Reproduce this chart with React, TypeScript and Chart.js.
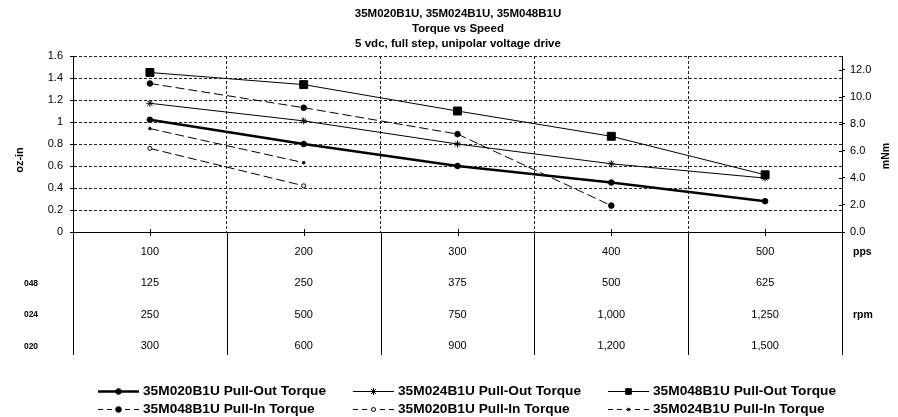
import React, { useEffect, useRef } from 'react';
import { Chart, registerables } from 'chart.js';

Chart.register(...registerables);

// ---- data ----
const ppsLabels = ['100', '200', '300', '400', '500'];
const rpm048 = ['125', '250', '375', '500', '625'];
const rpm024 = ['250', '500', '750', '1,000', '1,250'];
const rpm020 = ['300', '600', '900', '1,200', '1,500'];
const rowNames = ['048', '024', '020'];

const pullOut020 = [1.02, 0.8, 0.6, 0.45, 0.28];
const pullOut024 = [1.17, 1.01, 0.8, 0.62, 0.49];
const pullOut048 = [1.45, 1.34, 1.1, 0.87, 0.52];
const pullIn048 = [1.35, 1.13, 0.89, 0.24, null];
const pullIn020 = [0.76, 0.42, null, null, null];
const pullIn024 = [0.94, 0.63, null, null, null];

const titleLines = ['35M020B1U, 35M024B1U, 35M048B1U', 'Torque vs Speed', '5 vdc, full step, unipolar voltage drive'];
const seriesNames = [
  '35M020B1U Pull-Out Torque',
  '35M024B1U Pull-Out Torque',
  '35M048B1U Pull-Out Torque',
  '35M048B1U Pull-In Torque',
  '35M020B1U Pull-In Torque',
  '35M024B1U Pull-In Torque',
];

const FONT = "'Liberation Sans', Arial, sans-serif";
const W = 898;
const H = 417;
const ROW_H = 31.5;
const X_PAD = 4;
const TABLE_BOTTOM = 355;
const DASH = [9, 4];

function drawMarker(ctx: CanvasRenderingContext2D, style: string, x: number, y: number, r: number, fill: string) {
  ctx.save();
  ctx.strokeStyle = '#000';
  ctx.fillStyle = fill;
  ctx.lineWidth = 1;
  ctx.setLineDash([]);
  ctx.beginPath();
  if (style === 'rect') {
    const s = Math.SQRT1_2 * r;
    ctx.rect(x - s, y - s, 2 * s, 2 * s);
    ctx.fill();
    ctx.stroke();
  } else if (style === 'star') {
    const d = r * Math.SQRT1_2;
    ctx.moveTo(x - d, y - d); ctx.lineTo(x + d, y + d);
    ctx.moveTo(x - d, y + d); ctx.lineTo(x + d, y - d);
    ctx.moveTo(x, y - r); ctx.lineTo(x, y + r);
    ctx.stroke();
  } else {
    ctx.arc(x, y, r, 0, Math.PI * 2);
    ctx.fill();
    ctx.stroke();
  }
  ctx.restore();
}

const extras = {
  id: 'extras',
  afterDraw(chart: any) {
    const { ctx, chartArea: ca, scales } = chart;
    const xs = scales.x;
    const n = ppsLabels.length;
    ctx.save();
    ctx.strokeStyle = '#000';
    ctx.lineWidth = 1;
    ctx.setLineDash([]);
    // table vertical lines
    for (let i = 0; i <= n; i++) {
      const px = Math.round(xs.getPixelForValue(i - 0.5)) + 0.5;
      ctx.beginPath();
      ctx.moveTo(px, ca.bottom);
      ctx.lineTo(px, TABLE_BOTTOM);
      ctx.stroke();
    }
    // center tick marks on x axis
    for (let i = 0; i < n; i++) {
      const px = Math.round(xs.getPixelForValue(i)) + 0.5;
      ctx.beginPath();
      ctx.moveTo(px, ca.bottom - 3);
      ctx.lineTo(px, ca.bottom + 4);
      ctx.stroke();
    }
    // inner parts of y tick marks (crossing)
    const y1 = scales.y;
    y1.ticks.forEach((t: any) => {
      const py = Math.round(y1.getPixelForValue(t.value)) + 0.5;
      ctx.beginPath();
      ctx.moveTo(ca.left, py);
      ctx.lineTo(ca.left + 3, py);
      ctx.stroke();
    });
    const y2 = scales.y2;
    y2.ticks.forEach((t: any) => {
      const py = Math.round(y2.getPixelForValue(t.value)) + 0.5;
      ctx.beginPath();
      ctx.moveTo(ca.right - 3, py);
      ctx.lineTo(ca.right, py);
      ctx.stroke();
    });

    // row labels
    const rowY = (k: number) => ca.bottom + X_PAD + ROW_H / 2 + k * ROW_H;
    ctx.fillStyle = '#000';
    ctx.textBaseline = 'middle';
    ctx.textAlign = 'center';
    ctx.font = `bold 8.5px ${FONT}`;
    rowNames.forEach((name, k) => ctx.fillText(name, 31, rowY(k + 1)));
    ctx.textAlign = 'left';
    ctx.font = `bold 10.5px ${FONT}`;
    ctx.fillText('pps', ca.right + 11, rowY(0));
    ctx.fillText('rpm', ca.right + 11, rowY(2));

    // axis titles
    ctx.font = `bold 11px ${FONT}`;
    ctx.textAlign = 'center';
    ctx.save();
    ctx.translate(20, 160);
    ctx.rotate(-Math.PI / 2);
    ctx.fillText('oz-in', 0, 0);
    ctx.restore();
    ctx.font = `bold 10.5px ${FONT}`;
    ctx.save();
    ctx.translate(886, 156);
    ctx.rotate(-Math.PI / 2);
    ctx.fillText('mNm', 0, 0);
    ctx.restore();

    // legend grid
    const colX = [98, 353, 608];
    const rowLY = [391, 409];
    ctx.font = `bold 13.7px ${FONT}`;
    ctx.textAlign = 'left';
    chart.data.datasets.forEach((ds: any, i: number) => {
      const c = i % 3;
      const r = Math.floor(i / 3);
      const x0 = colX[c];
      const y = rowLY[r] + 0.5;
      ctx.save();
      ctx.strokeStyle = '#000';
      ctx.lineWidth = ds.borderWidth;
      ctx.setLineDash(ds.borderDash ? [5, 4] : []);
      ctx.beginPath();
      ctx.moveTo(x0, y);
      ctx.lineTo(x0 + 41, y);
      ctx.stroke();
      ctx.restore();
      if (ds.pointRadius > 0) {
        drawMarker(ctx, ds.pointStyle, x0 + 20.5, y, Math.min(ds.pointRadius, 4), ds.pointBackgroundColor);
      }
      ctx.fillStyle = '#000';
      ctx.fillText(ds.label, x0 + 45, rowLY[r]);
    });
    ctx.restore();
  },
};

export default function App() {
  const ref = useRef<HTMLCanvasElement | null>(null);
  useEffect(() => {
    if (!ref.current) return;
    const tableLabels = ppsLabels.map((p, i) => [p, rpm048[i], rpm024[i], rpm020[i]]);
    const mk = (label: string, data: (number | null)[], o: any) => ({
      label,
      data,
      borderColor: '#000',
      pointBorderColor: '#000',
      pointBorderWidth: 1,
      tension: 0,
      spanGaps: false,
      yAxisID: 'y',
      ...o,
    });
    const gridDash = { display: true, color: '#000', width: 1, dash: [3, 2] };
    const chart = new Chart(ref.current, {
      type: 'line',
      data: {
        labels: tableLabels,
        datasets: [
          mk(seriesNames[0], pullOut020, { borderWidth: 2.5, pointStyle: 'circle', pointRadius: 2.8, pointBackgroundColor: '#000' }),
          mk(seriesNames[1], pullOut024, { borderWidth: 1, pointStyle: 'star', pointRadius: 3.5, pointBackgroundColor: '#000' }),
          mk(seriesNames[2], pullOut048, { borderWidth: 1, pointStyle: 'rect', pointRadius: 5.6, pointBackgroundColor: '#000' }),
          mk(seriesNames[3], pullIn048, { borderWidth: 1, borderDash: DASH, pointStyle: 'circle', pointRadius: 2.8, pointBackgroundColor: '#000' }),
          mk(seriesNames[4], pullIn020, { borderWidth: 1, borderDash: DASH, pointStyle: 'circle', pointRadius: 2, pointBackgroundColor: '#fff' }),
          mk(seriesNames[5], pullIn024, { borderWidth: 1, borderDash: DASH, pointStyle: 'circle', pointRadius: 1.3, pointBackgroundColor: '#000' }),
        ],
      },
      options: {
        responsive: false,
        animation: false,
        events: [],
        layout: { padding: { left: 20, right: 2, top: 0, bottom: 0 } },
        plugins: {
          legend: { display: false },
          tooltip: { enabled: false },
          title: {
            display: true,
            text: titleLines,
            color: '#000',
            font: { family: FONT, size: 11.5, weight: 'bold', lineHeight: '15px' },
            padding: { top: 6.5, bottom: 4.5 },
          },
        },
        scales: {
          x: {
            type: 'category',
            offset: true,
            grid: {
              offset: true,
              color: '#222',
              drawTicks: false,
            },
            border: gridDash,
            ticks: {
              color: '#000',
              padding: X_PAD,
              maxRotation: 0,
              autoSkip: false,
              font: { family: FONT, size: 11, lineHeight: ROW_H + 'px' },
            },
            afterFit: (s: any) => { s.height = H - 232; },
          },
          y: {
            type: 'linear',
            position: 'left',
            min: 0,
            max: 1.6,
            grid: {
              color: '#222',
              tickLength: 3,
              tickColor: '#000',
              tickBorderDash: [],
            },
            border: gridDash,
            ticks: {
              stepSize: 0.2,
              color: '#000',
              padding: 7,
              font: { family: FONT, size: 11 },
              callback: (v: any) => String(Math.round(Number(v) * 10) / 10),
            },
            afterFit: (s: any) => { s.width = 53; },
          },
          y2: {
            type: 'linear',
            position: 'right',
            min: 0,
            max: 13,
            grid: { drawOnChartArea: false, tickLength: 3, tickColor: '#000', color: '#000', tickBorderDash: [] },
            border: { display: true, color: '#000', width: 1 },
            ticks: {
              stepSize: 2,
              includeBounds: false,
              color: '#000',
              padding: 5,
              font: { family: FONT, size: 11 },
              callback: (v: any) => Number(v).toFixed(1),
            },
            afterFit: (s: any) => { s.width = 54; },
          },
        },
      } as any,
      plugins: [extras],
    });
    return () => chart.destroy();
  }, []);
  return (
    <div style={{ position: 'absolute', left: 0, top: 0, width: W, height: H, background: '#fff' }}>
      <canvas ref={ref} width={W} height={H} />
    </div>
  );
}
